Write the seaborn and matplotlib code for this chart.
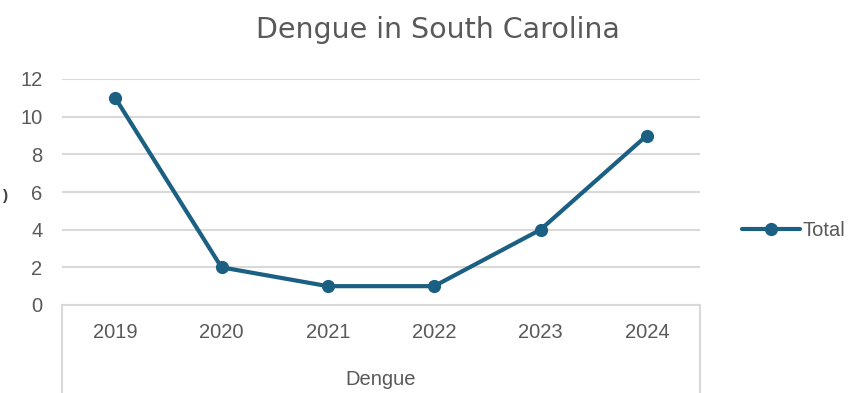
import matplotlib
matplotlib.use("Agg")
import matplotlib.pyplot as plt
import seaborn as sns
import pandas as pd

years = ["2019", "2020", "2021", "2022", "2023", "2024"]
totals = [11, 2, 1, 1, 4, 9]
yticks = [0, 2, 4, 6, 8, 10, 12]
title = "Dengue in South Carolina"
xlabel = "Dengue"
series_name = "Total"

sns.set_theme(style="white")
plt.rcParams["font.family"] = ["Liberation Sans", "DejaVu Sans"]

df = pd.DataFrame({"Year": years, series_name: totals})

line_color = "#1b5f82"
text_color = "#595959"
grid_color = "#d9d9d9"

fig = plt.figure(figsize=(8.48, 3.93), dpi=100)
ax = fig.add_axes([62/848, 88/393, 638/848, 226/393])

sns.lineplot(data=df, x="Year", y=series_name, ax=ax, color=line_color,
             linewidth=3, marker="o", markersize=9.5, markeredgewidth=0,
             sort=False, label=series_name, legend=False)

ax.set_xlim(-0.5, len(years) - 0.5)
ax.set_ylim(0, 12)
ax.set_yticks(yticks)
ax.yaxis.grid(True, color=grid_color, linewidth=1.5)
ax.set_axisbelow(True)
for s in ["top", "right", "left"]:
    ax.spines[s].set_visible(False)
ax.spines["bottom"].set_color(grid_color)
ax.spines["bottom"].set_linewidth(1.5)
ax.tick_params(axis="y", length=0, pad=14, labelsize=14.5, labelcolor=text_color)
ax.tick_params(axis="x", length=0, pad=13, labelsize=14.5, labelcolor=text_color)
ax.set_ylabel("")
ax.set_xlabel(xlabel, fontsize=14.5, color=text_color, labelpad=20)

# category box side lines
for xx in [0, 1]:
    ax.plot([xx, xx], [0, -0.40], transform=ax.transAxes, color=grid_color,
            linewidth=1.5, clip_on=False)

fig.text(438/848, 1 - 30/393, title, ha="center", va="center",
         fontsize=20.5, color=text_color, family=["DejaVu Sans"])
fig.text(6/848, 1 - 196/393, ")", ha="center", va="center", fontsize=11,
         color="#404040", fontweight="bold")

handles, labels = ax.get_legend_handles_labels()
leg = fig.legend(handles, labels, loc="center left",
                 bbox_to_anchor=(734/848, 1 - 231/393), frameon=False,
                 fontsize=14.5, handlelength=2.9, handletextpad=0.1,
                 borderaxespad=0)
for t in leg.get_texts():
    t.set_color(text_color)

fig.savefig("out.png", dpi=100)
